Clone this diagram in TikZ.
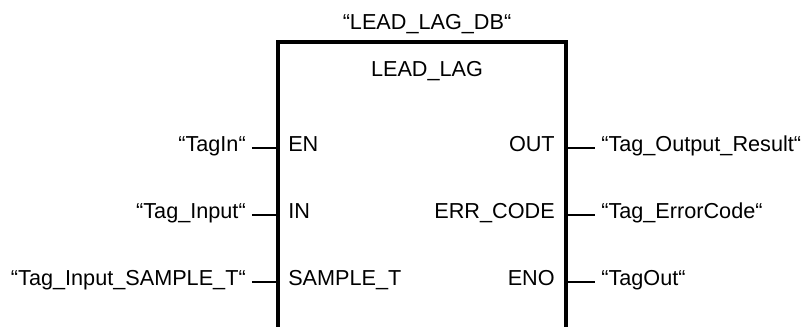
\documentclass[tikz,border=0pt]{standalone}
\usepackage{fontspec}
\setmainfont{Liberation Sans}
\usetikzlibrary{positioning}

\begin{document}
\begin{tikzpicture}[
    x=0.025cm, y=-0.025cm,
    port/.style={font=\fontsize{15.4}{18}\selectfont, inner xsep=0pt, inner ysep=0pt, text height=0.72em, text depth=0.21em},
    tagname/.style={port, inner xsep=0.15cm},
    title/.style={font=\fontsize{15.4}{18}\selectfont, inner sep=0pt, anchor=base},
    boxline/.style={line width=0.1cm},
    stub/.style={line width=1.1pt}
]
\useasboundingbox (0,0) rectangle (806,327);
% block outline, open at the bottom
\coordinate (tl) at (278,42);
\coordinate (tr) at (566,42);
\coordinate (bl) at (278,327);
\coordinate (br) at (566,327);
\draw[boxline] (bl) -- (tl) -- (tr) -- (br);
\node[title] (db) at (427,30) {“LEAD\_LAG\_DB“};
\node[title] (fb) at (427,77) {LEAD\_LAG};
% pin points on the block edges
\coordinate (pEN) at (278,148);
\coordinate (pIN) at (278,215);
\coordinate (pST) at (278,282);
\coordinate (pOUT) at (566,148);
\coordinate (pERR) at (566,215);
\coordinate (pENO) at (566,282);
% inputs
\node[port, right=0.25cm of pEN] (en) {EN};
\node[port, right=0.25cm of pIN] (in) {IN};
\node[port, right=0.25cm of pST] (st) {SAMPLE\_T};
\node[tagname, left=0.65cm of pEN] (tagin) {“TagIn“};
\node[tagname, left=0.65cm of pIN] (taginput) {“Tag\_Input“};
\node[tagname, left=0.65cm of pST] (tagsample) {“Tag\_Input\_SAMPLE\_T“};
\draw[stub] (tagin) -- (pEN);
\draw[stub] (taginput) -- (pIN);
\draw[stub] (tagsample) -- (pST);
% outputs
\node[port, left=0.275cm of pOUT] (out) {OUT};
\node[port, left=0.275cm of pERR] (err) {ERR\_CODE};
\node[port, left=0.275cm of pENO] (eno) {ENO};
\node[tagname, right=0.725cm of pOUT] (tagresult) {“Tag\_Output\_Result“};
\node[tagname, right=0.725cm of pERR] (tagerr) {“Tag\_ErrorCode“};
\node[tagname, right=0.725cm of pENO] (tagout) {“TagOut“};
\draw[stub] (pOUT) -- (tagresult);
\draw[stub] (pERR) -- (tagerr);
\draw[stub] (pENO) -- (tagout);
\end{tikzpicture}
\end{document}
